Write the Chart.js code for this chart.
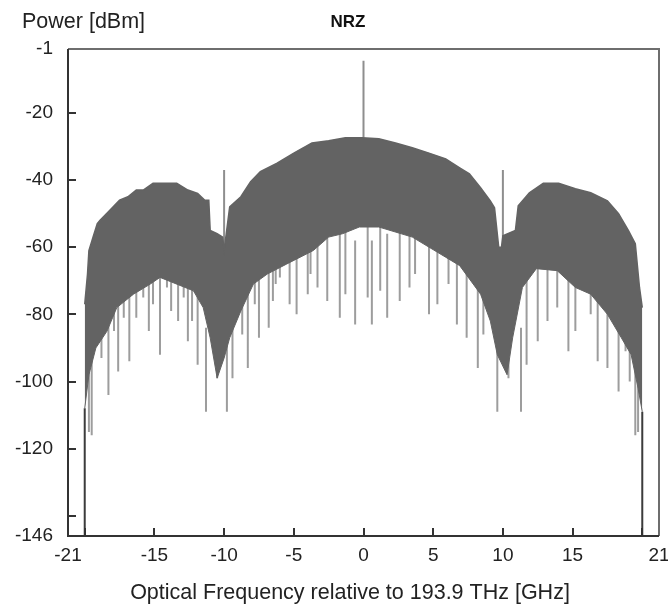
<!DOCTYPE html>
<html>
<head>
<meta charset="utf-8">
<script src="https://cdn.jsdelivr.net/npm/chart.js@4.4.1/dist/chart.umd.min.js"></script>
<style>
  html, body { margin: 0; padding: 0; background: #fff; }
  canvas { display: block; }
</style>
</head>
<body>
<canvas id="myChart" width="668" height="604"></canvas>
<script>
// Upper edge of the NRZ spectrum (GHz / dBm)
const upperFreq = [-20.0, -19.8, -19.7, -19.4, -19.1, -18.9, -18.2, -17.5, -16.9, -16.3,
  -15.8, -15.1, -14.6, -13.4, -12.6, -11.9, -11.4, -11.1, -11.0, -10.5,
  -10.1, -10.0, -9.6, -8.8, -8.1, -7.4, -6.2, -5.0, -3.7, -2.5,
  -1.3, -0.1, 1.1, 2.3, 3.5, 4.7, 5.9, 6.9, 7.6, 8.4,
  9.1, 9.4, 9.7, 9.9, 10.0, 10.9, 11.1, 11.9, 12.9, 14.0,
  15.2, 16.3, 17.5, 18.3, 19.0, 19.5, 19.8, 20.0];
const upperPower = [-77, -68, -61, -57, -53, -52, -49, -46, -45, -43,
  -43, -41, -41, -41, -43, -44, -46, -46, -55, -56,
  -57, -61, -48, -45, -40.5, -37.5, -35, -32, -29, -28.3,
  -27.4, -27.4, -27.7, -29, -30.4, -32, -33.7, -36.4, -38.2, -42.3,
  -46.2, -48.3, -60, -60, -56.6, -55, -47.7, -43.8, -41, -41,
  -42.6, -43.8, -46.2, -50, -55, -59, -72, -78];

// Lower edge of the solid part
const lowerFreq = [-20.0, -19.7, -19.2, -18.4, -17.7, -16.5, -15.3, -14.6, -12.2, -11.5,
  -11.0, -10.5, -10.0, -9.6, -8.8, -7.9, -6.9, -5.5, -3.6, -2.5,
  -1.5, -0.3, 1.1, 3.5, 5.9, 6.9, 8.4, 9.1, 9.6, 10.3,
  10.7, 11.4, 12.4, 13.9, 15.2, 16.3, 17.5, 18.5, 19.2, 19.7, 20.0];
const lowerPower = [-108, -98, -90, -85, -78, -74, -71, -69, -73, -78,
  -87, -99, -93, -87, -79, -71, -68, -65, -61, -57,
  -56, -54, -54, -57, -63, -65.5, -74, -82, -92, -98,
  -87, -72, -66.4, -67, -72, -74, -80, -87, -92, -102, -109];

// Deep notches below the solid part (frequency, lowest power)
const dipFreq = [-19.7, -19.5, -18.8, -18.3, -17.9, -17.6, -17.2, -16.8, -16.3, -15.8,
  -15.4, -15.1, -14.6, -14.1, -13.8, -13.3, -12.9, -12.6, -12.3, -11.9,
  -11.3, -10.8, -10.5, -9.8, -9.4, -8.7, -8.3, -7.8, -7.5, -6.8,
  -6.5, -6.3, -6.0, -5.3, -4.8, -4.0, -3.8, -3.3, -2.6, -1.7,
  -1.3, -0.6, 0.3, 0.6, 1.2, 1.7, 2.6, 3.3, 3.7, 4.7,
  5.3, 6.1, 6.7, 7.4, 8.2, 8.6, 9.6, 10.4, 11.3, 11.7,
  12.5, 13.2, 13.9, 14.7, 15.2, 16.3, 16.8, 17.5, 18.3, 18.8,
  19.1, 19.5, 19.7];
const dipPower = [-115, -116, -93, -104, -85, -97, -81, -94, -81, -75,
  -85, -77, -92, -72, -79, -82, -75, -88, -82, -95,
  -109, -82, -99, -109, -99, -86, -96, -77, -87, -84,
  -76, -71, -69, -77, -80, -74, -68, -72, -76, -81,
  -74, -83, -75, -83, -73, -81, -76, -72, -68, -80,
  -77, -71, -83, -87, -96, -86, -109, -99, -109, -95,
  -88, -82, -78, -91, -85, -80, -94, -96, -103, -91,
  -100, -116, -115];

// Discrete tones (carrier and clock lines)
const toneFreq = [-10, 0, 10];
const toneTop = [-37, -4.5, -37];
const toneBase = [-61, -27.4, -60];

// Edge lines of the simulated band
const edgeFreq = [-20, 20];
const edgeTop = [-108, -109];
const edgeBottom = [-146, -146];

// Axis ticks
const xTickVals = [-21.2, -20, -15, -10, -5, 0, 5, 10, 15, 20, 21.2];
const xTickText = ['-21', '', '-15', '-10', '-5', '0', '5', '10', '15', '', '21'];
const yTickVals = [-146, -140, -120, -100, -80, -60, -40, -20, -1];
const yTickText = ['-146', '', '-120', '-100', '-80', '-60', '-40', '-20', '-1'];

const FONT = 'Liberation Sans, Arial, sans-serif';
const BODY = '#636363';

function points(xs, ys) {
  return xs.map((x, i) => ({x: x, y: ys[i]}));
}
// vertical line pieces, broken by null points
function sticks(xs, a, b) {
  const out = [];
  xs.forEach((x, i) => {
    out.push({x: x, y: a[i]}, {x: x, y: b[i]}, {x: x, y: null});
  });
  return out;
}

const dipTop = dipPower.map(p => p + 25);

// frame, inward tick marks and the titles
const frame = {
  id: 'frame',
  afterDraw(chart) {
    const ctx = chart.ctx;
    const a = chart.chartArea;
    const sx = chart.scales.x, sy = chart.scales.y;
    ctx.save();
    ctx.lineWidth = 2;
    ctx.strokeStyle = '#6e6e6e';
    ctx.beginPath();
    ctx.moveTo(a.left, a.top);
    ctx.lineTo(a.right, a.top);
    ctx.lineTo(a.right, a.bottom);
    ctx.stroke();
    ctx.strokeStyle = '#333';
    ctx.beginPath();
    ctx.moveTo(a.left, a.top); ctx.lineTo(a.left, a.bottom); ctx.lineTo(a.right, a.bottom);
    for (let v = -20; v <= 20; v += 5) {
      const px = Math.round(sx.getPixelForValue(v));
      ctx.moveTo(px, a.bottom); ctx.lineTo(px, a.bottom - 8);
    }
    for (let v = -140; v <= -20; v += 20) {
      const py = Math.round(sy.getPixelForValue(v));
      ctx.moveTo(a.left, py); ctx.lineTo(a.left + 8, py);
    }
    ctx.stroke();

    ctx.fillStyle = '#222';
    ctx.textBaseline = 'middle';
    ctx.font = '21.5px ' + FONT;
    ctx.textAlign = 'left';
    ctx.fillText('Power [dBm]', 22, 22);
    ctx.textAlign = 'center';
    ctx.fillText('Optical Frequency relative to 193.9 THz [GHz]', 350, 593);
    ctx.font = 'bold 17px ' + FONT;
    ctx.fillStyle = '#111';
    ctx.fillText('NRZ', 348, 22);
    ctx.restore();
  }
};

const ctx = document.getElementById('myChart').getContext('2d');
const myChart = new Chart(ctx, {
  type: 'line',
  data: {
    datasets: [
      {
        label: 'lower',
        data: points(lowerFreq, lowerPower),
        borderColor: BODY,
        borderWidth: 1,
        pointRadius: 0,
        fill: false
      },
      {
        label: 'upper',
        data: points(upperFreq, upperPower),
        borderColor: BODY,
        borderWidth: 1.5,
        backgroundColor: BODY,
        pointRadius: 0,
        fill: '-1'
      },
      {
        label: 'dips',
        data: sticks(dipFreq, dipTop, dipPower),
        borderColor: '#9d9d9d',
        borderWidth: 2,
        pointRadius: 0,
        spanGaps: false
      },
      {
        label: 'tones',
        data: sticks(toneFreq, toneTop, toneBase),
        borderColor: '#8e8e8e',
        borderWidth: 2,
        pointRadius: 0,
        spanGaps: false
      },
      {
        label: 'edges',
        data: sticks(edgeFreq, edgeTop, edgeBottom),
        borderColor: '#3c3c3c',
        borderWidth: 2,
        pointRadius: 0,
        spanGaps: false
      }
    ]
  },
  options: {
    responsive: false,
    animation: false,
    layout: { padding: { top: 49, right: 9, left: 0, bottom: 0 } },
    plugins: {
      legend: { display: false },
      tooltip: { enabled: false }
    },
    scales: {
      x: {
        type: 'linear',
        min: -21.2,
        max: 21.2,
        offset: false,
        grid: { display: false, drawTicks: false },
        border: { display: false },
        afterBuildTicks: s => { s.ticks = xTickVals.map(v => ({value: v})); },
        afterFit: s => { s.height = 68; s.paddingLeft = 0; s.paddingRight = 0; },
        ticks: {
          autoSkip: false,
          maxRotation: 0,
          padding: 8,
          color: '#222',
          font: { family: FONT, size: 19 },
          callback: (v, i) => xTickText[i]
        }
      },
      y: {
        min: -146,
        max: -1,
        grid: { display: false, drawTicks: false },
        border: { display: false },
        afterBuildTicks: s => { s.ticks = yTickVals.map(v => ({value: v})); },
        afterFit: s => { s.width = 68; s.paddingTop = 0; s.paddingBottom = 0; },
        ticks: {
          autoSkip: false,
          padding: 15,
          color: '#222',
          font: { family: FONT, size: 19 },
          callback: (v, i) => yTickText[i]
        }
      }
    }
  },
  plugins: [frame]
});
</script>
</body>
</html>
